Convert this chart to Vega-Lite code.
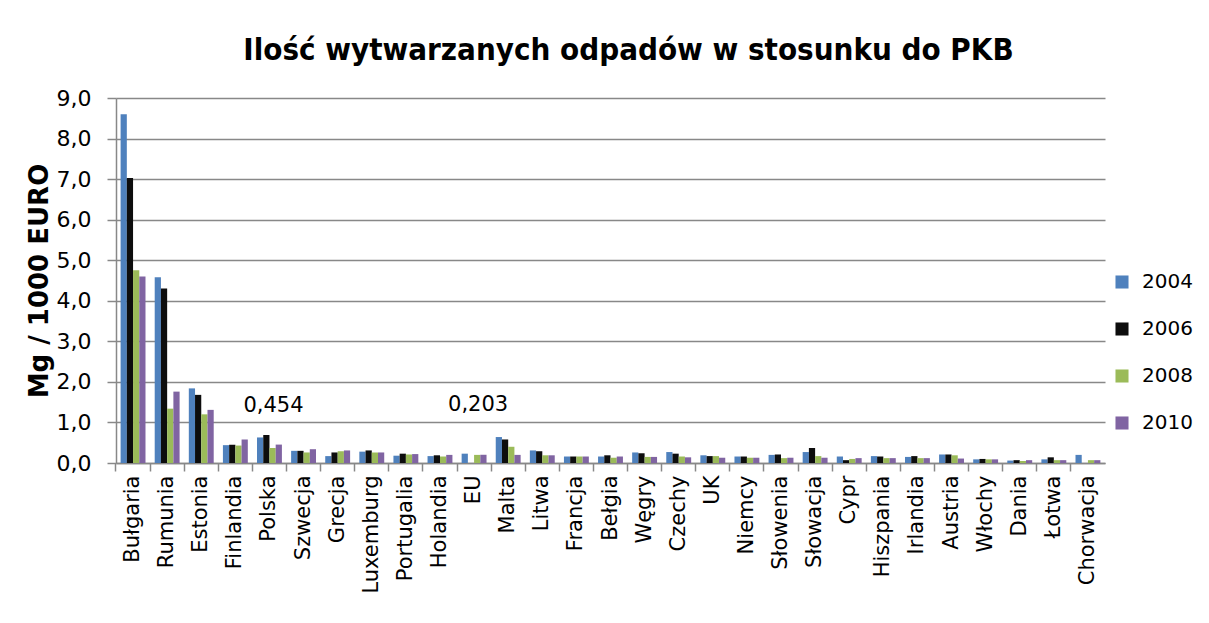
{
  "$schema": "https://vega.github.io/schema/vega-lite/v6.json",
  "width": 989,
  "height": 365,
  "autosize": "none",
  "padding": {"left": 116, "top": 98, "right": 104, "bottom": 160},
  "background": "white",
  "title": {
    "text": "Ilość wytwarzanych odpadów w stosunku do PKB",
    "font": "DejaVu Sans Condensed",
    "fontWeight": "bold",
    "fontSize": 31,
    "color": "black",
    "anchor": "middle",
    "frame": "group",
    "dx": 18,
    "offset": 20
  },
  "datasets": {
    "odpady": [
      {"kraj": "Bułgaria", "2004": 8.6, "2006": 7.03, "2008": 4.75, "2010": 4.6},
      {"kraj": "Rumunia", "2004": 4.58, "2006": 4.3, "2008": 1.34, "2010": 1.76},
      {"kraj": "Estonia", "2004": 1.84, "2006": 1.68, "2008": 1.2, "2010": 1.31},
      {"kraj": "Finlandia", "2004": 0.44, "2006": 0.45, "2008": 0.43, "2010": 0.58},
      {"kraj": "Polska", "2004": 0.63, "2006": 0.69, "2008": 0.37, "2010": 0.454},
      {"kraj": "Szwecja", "2004": 0.3, "2006": 0.3, "2008": 0.26, "2010": 0.34},
      {"kraj": "Grecja", "2004": 0.17, "2006": 0.26, "2008": 0.29, "2010": 0.31},
      {"kraj": "Luxemburg", "2004": 0.28, "2006": 0.31, "2008": 0.26, "2010": 0.26},
      {"kraj": "Portugalia", "2004": 0.18, "2006": 0.23, "2008": 0.21, "2010": 0.22},
      {"kraj": "Holandia", "2004": 0.17, "2006": 0.19, "2008": 0.16, "2010": 0.2},
      {"kraj": "EU", "2004": 0.23, "2008": 0.2, "2010": 0.203},
      {"kraj": "Malta", "2004": 0.64, "2006": 0.58, "2008": 0.4, "2010": 0.2},
      {"kraj": "Litwa", "2004": 0.31, "2006": 0.29, "2008": 0.19, "2010": 0.19},
      {"kraj": "Francja", "2004": 0.16, "2006": 0.16, "2008": 0.16, "2010": 0.16},
      {"kraj": "Bełgia", "2004": 0.16, "2006": 0.19, "2008": 0.13, "2010": 0.16},
      {"kraj": "Węgry", "2004": 0.26, "2006": 0.24, "2008": 0.15, "2010": 0.15},
      {"kraj": "Czechy", "2004": 0.27, "2006": 0.23, "2008": 0.16, "2010": 0.14},
      {"kraj": "UK", "2004": 0.19, "2006": 0.17, "2008": 0.17, "2010": 0.13},
      {"kraj": "Niemcy", "2004": 0.16, "2006": 0.16, "2008": 0.13, "2010": 0.13},
      {"kraj": "Słowenia", "2004": 0.2, "2006": 0.21, "2008": 0.12, "2010": 0.13},
      {"kraj": "Słowacja", "2004": 0.27, "2006": 0.37, "2008": 0.17, "2010": 0.13},
      {"kraj": "Cypr", "2004": 0.16, "2006": 0.07, "2008": 0.1, "2010": 0.12},
      {"kraj": "Hiszpania", "2004": 0.17, "2006": 0.16, "2008": 0.12, "2010": 0.12},
      {"kraj": "Irlandia", "2004": 0.15, "2006": 0.17, "2008": 0.12, "2010": 0.12},
      {"kraj": "Austria", "2004": 0.21, "2006": 0.21, "2008": 0.19, "2010": 0.11},
      {"kraj": "Włochy", "2004": 0.09, "2006": 0.1, "2008": 0.09, "2010": 0.09},
      {"kraj": "Dania", "2004": 0.06, "2006": 0.07, "2008": 0.05, "2010": 0.07},
      {"kraj": "Łotwa", "2004": 0.09, "2006": 0.14, "2008": 0.07, "2010": 0.07},
      {"kraj": "Chorwacja", "2004": 0.2, "2008": 0.07, "2010": 0.07}
    ],
    "etykiety": [
      {"kraj": "Polska", "tekst": "0,454", "poz": 1.4},
      {"kraj": "EU", "tekst": "0,203", "poz": 1.42}
    ]
  },
  "layer": [
    {
      "data": {"name": "odpady"},
      "transform": [
        {"fold": ["2004", "2006", "2008", "2010"], "as": ["rok", "wartosc"]}
      ],
      "mark": {"type": "bar"},
      "encoding": {
        "x": {
          "field": "kraj",
          "type": "nominal",
          "sort": null,
          "scale": {"paddingInner": 0.27, "paddingOuter": 0.135},
          "axis": {
            "title": null,
            "labelAngle": 270,
            "labelFont": "DejaVu Sans",
            "labelFontSize": 21,
            "labelColor": "black",
            "labelPadding": 4,
            "bandPosition": -0.185,
            "tickSize": 8,
            "tickColor": "#888888",
            "tickWidth": 1.5,
            "domainColor": "#888888",
            "domainWidth": 1.5,
            "grid": false
          }
        },
        "xOffset": {
          "field": "rok",
          "type": "nominal",
          "scale": {"paddingInner": 0, "paddingOuter": 0}
        },
        "y": {
          "field": "wartosc",
          "type": "quantitative",
          "scale": {"domain": [0, 9], "nice": false},
          "axis": {
            "title": "Mg / 1000 EURO",
            "titleFont": "DejaVu Sans",
            "titleFontWeight": "bold",
            "titleFontSize": 26,
            "titleColor": "black",
            "titlePadding": 4,
            "values": [0, 1, 2, 3, 4, 5, 6, 7, 8, 9],
            "labelExpr": "replace(format(datum.value, '.1f'), '.', ',')",
            "labelFont": "DejaVu Sans",
            "labelFontSize": 22,
            "labelColor": "black",
            "labelPadding": 16,
            "tickSize": 9,
            "tickColor": "#888888",
            "tickWidth": 1.5,
            "domainColor": "#888888",
            "domainWidth": 1.5,
            "grid": true,
            "gridColor": "#888888",
            "gridWidth": 1.5
          }
        },
        "color": {
          "field": "rok",
          "type": "nominal",
          "scale": {
            "domain": ["2004", "2006", "2008", "2010"],
            "range": ["#4F81BD", "#0D0D0D", "#9BBB59", "#8064A2"]
          },
          "legend": {
            "title": null,
            "orient": "none",
            "legendX": 996,
            "legendY": 174,
            "symbolType": "square",
            "symbolSize": 170,
            "symbolStrokeWidth": 0,
            "labelFont": "DejaVu Sans",
            "labelFontSize": 20,
            "labelColor": "black",
            "labelOffset": 10,
            "rowPadding": 27,
            "padding": 0
          }
        }
      }
    },
    {
      "data": {"name": "etykiety"},
      "mark": {"type": "text", "font": "DejaVu Sans", "fontSize": 21, "color": "black", "baseline": "middle", "align": "center", "dx": 4},
      "encoding": {
        "x": {"field": "kraj", "type": "nominal", "sort": null},
        "y": {"field": "poz", "type": "quantitative"},
        "text": {"field": "tekst"}
      }
    }
  ],
  "config": {
    "view": {"stroke": null}
  }
}
